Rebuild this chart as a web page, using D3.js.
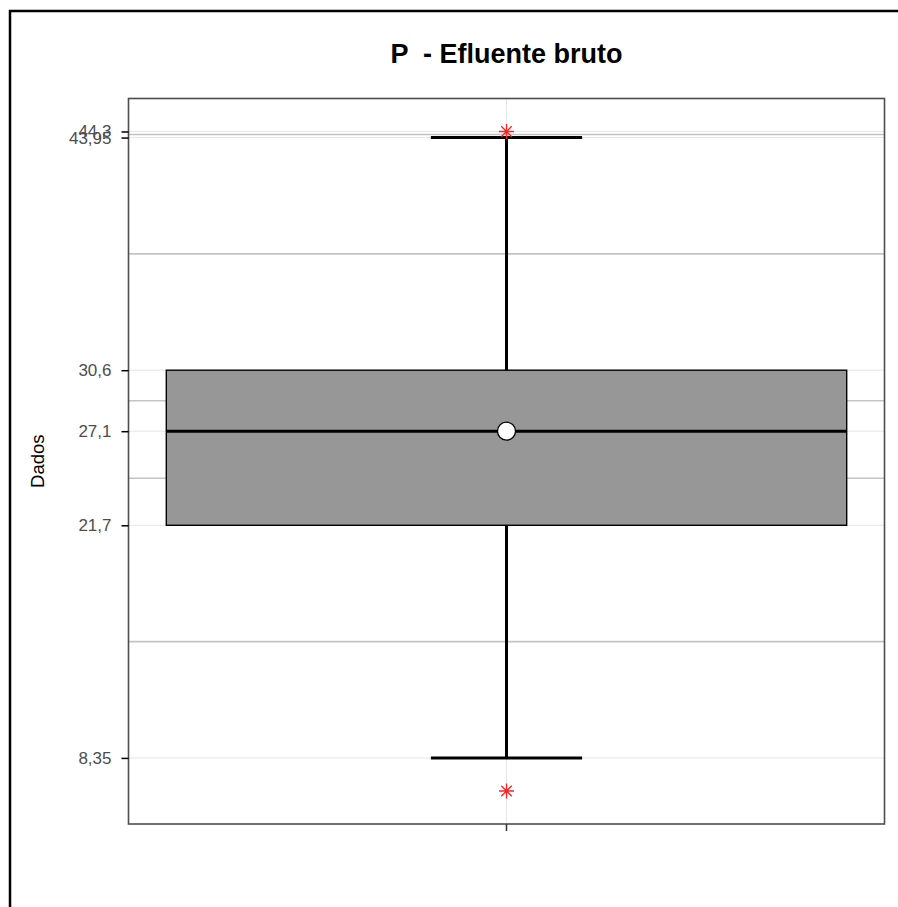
<!DOCTYPE html>
<html>
<head>
<meta charset="utf-8">
<script src="https://cdn.jsdelivr.net/npm/d3@7"></script>
<style>
  html, body { margin: 0; padding: 0; background: #fff; }
  svg { display: block; font-family: "Liberation Sans", Arial, sans-serif; }
</style>
</head>
<body>
<div id="chart"></div>
<script>
// Boxplot summary of phosphorus in raw effluent
const categories = ["P"];
const whiskerLow = [8.35];
const q1 = [21.7];
const median = [27.1];
const q3 = [30.6];
const whiskerHigh = [43.95];
const mean = [27.1];
const outliers = [44.3, 6.45];
const tickValues = [8.35, 21.7, 27.1, 30.6, 43.95, 44.3];
const tickLabels = ["8,35", "21,7", "27,1", "30,6", "43,95", "44,3"];

const title = "P  - Efluente bruto";
const yTitle = "Dados";

const W = 898, H = 907;
const panel = { left: 128.5, right: 884.5, top: 98.5, bottom: 824 };

const svg = d3.select("#chart").append("svg")
  .attr("width", W).attr("height", H);

// outer frame (only top and left edges fall inside the canvas)
svg.append("path")
  .attr("d", `M10,${H + 5}V11H${W + 5}`)
  .attr("fill", "none")
  .attr("stroke", "#000")
  .attr("stroke-width", 2.5);

// y domain: data range with 5% padding on each side
const allVals = [...whiskerLow, ...whiskerHigh, ...outliers, ...q1, ...q3];
const lo = d3.min(allVals), hi = d3.max(allVals);
const pad = (hi - lo) * 0.05;
const y = d3.scaleLinear().domain([lo - pad, hi + pad]).range([panel.bottom, panel.top]);

const x = d3.scaleBand().domain(categories).range([panel.left, panel.right]).padding(0);

const g = svg.append("g");

// minor grid lines halfway between the labelled breaks
const sortedTicks = tickValues.slice().sort((a, b) => a - b);
const minor = d3.pairs(sortedTicks).map(([a, b]) => (a + b) / 2);
g.selectAll("line.minor").data(minor).join("line")
  .attr("class", "minor")
  .attr("x1", panel.left).attr("x2", panel.right)
  .attr("y1", d => y(d)).attr("y2", d => y(d))
  .attr("stroke", "#c4c4c4").attr("stroke-width", 1.6);

// major grid lines
g.selectAll("line.major").data(tickValues).join("line")
  .attr("class", "major")
  .attr("x1", panel.left).attr("x2", panel.right)
  .attr("y1", d => y(d)).attr("y2", d => y(d))
  .attr("stroke", "#e6e6e6").attr("stroke-width", 1);

g.selectAll("line.vgrid").data(categories).join("line")
  .attr("class", "vgrid")
  .attr("x1", d => x(d) + x.bandwidth() / 2).attr("x2", d => x(d) + x.bandwidth() / 2)
  .attr("y1", panel.top).attr("y2", panel.bottom)
  .attr("stroke", "#e6e6e6").attr("stroke-width", 1);

// boxes
const boxW = x.bandwidth() * 0.9;
const capW = x.bandwidth() * 0.2;
const cx = d => x(d) + x.bandwidth() / 2;

categories.forEach((c, i) => {
  const xc = cx(c);
  // whiskers
  g.append("line")
    .attr("x1", xc).attr("x2", xc)
    .attr("y1", y(whiskerHigh[i])).attr("y2", y(q3[i]))
    .attr("stroke", "#000").attr("stroke-width", 3);
  g.append("line")
    .attr("x1", xc).attr("x2", xc)
    .attr("y1", y(q1[i])).attr("y2", y(whiskerLow[i]))
    .attr("stroke", "#000").attr("stroke-width", 3);
  // caps
  [whiskerHigh[i], whiskerLow[i]].forEach(v => {
    g.append("line")
      .attr("x1", xc - capW / 2).attr("x2", xc + capW / 2)
      .attr("y1", y(v)).attr("y2", y(v))
      .attr("stroke", "#000").attr("stroke-width", 3);
  });
  // box
  g.append("rect")
    .attr("x", xc - boxW / 2).attr("width", boxW)
    .attr("y", y(q3[i])).attr("height", y(q1[i]) - y(q3[i]))
    .attr("fill", "#979797").attr("stroke", "#000").attr("stroke-width", 1.4);
  // median
  g.append("line")
    .attr("x1", xc - boxW / 2).attr("x2", xc + boxW / 2)
    .attr("y1", y(median[i])).attr("y2", y(median[i]))
    .attr("stroke", "#000").attr("stroke-width", 3);
  // mean
  g.append("circle")
    .attr("cx", xc).attr("cy", y(mean[i])).attr("r", 9)
    .attr("fill", "#fff").attr("stroke", "#000").attr("stroke-width", 1.3);
  // outliers as asterisks
  const s = 7.5;
  const star = d3.path();
  star.moveTo(-s, 0); star.lineTo(s, 0);
  star.moveTo(-s * 0.7, -s * 0.7); star.lineTo(s * 0.7, s * 0.7);
  star.moveTo(-s * 0.7, s * 0.7); star.lineTo(s * 0.7, -s * 0.7);
  star.moveTo(0, -s); star.lineTo(0, s);
  g.selectAll(null).data(outliers).join("path")
    .attr("transform", d => `translate(${xc},${y(d)})`)
    .attr("d", star.toString())
    .attr("stroke", "#ff2020").attr("stroke-width", 1.3).attr("fill", "none");
});

// panel border
svg.append("rect")
  .attr("x", panel.left).attr("y", panel.top)
  .attr("width", panel.right - panel.left).attr("height", panel.bottom - panel.top)
  .attr("fill", "none").attr("stroke", "#4d4d4d").attr("stroke-width", 1.6);

// y axis
const yAxis = d3.axisLeft(y)
  .tickValues(tickValues)
  .tickFormat((d, i) => tickLabels[i])
  .tickSize(7).tickPadding(10);
const ya = svg.append("g").attr("transform", `translate(${panel.left},0)`).call(yAxis);
ya.select(".domain").remove();
ya.selectAll(".tick line").attr("stroke", "#000").attr("stroke-width", 1.5);
ya.selectAll(".tick text").attr("fill", "#4d4d4d").attr("font-size", 17)
  .attr("font-family", "Liberation Sans, Arial, sans-serif");

// x axis (tick only)
const xAxis = d3.axisBottom(x).tickSize(7).tickFormat("");
const xa = svg.append("g").attr("transform", `translate(0,${panel.bottom})`).call(xAxis);
xa.select(".domain").remove();
xa.selectAll(".tick line").attr("stroke", "#333").attr("stroke-width", 1.5);

// titles
svg.append("text")
  .attr("x", (panel.left + panel.right) / 2).attr("y", 62.5)
  .attr("text-anchor", "middle")
  .style("white-space", "pre")
  .attr("font-size", 27).attr("font-weight", "bold").attr("fill", "#000")
  .text(title);

svg.append("text")
  .attr("transform", `translate(44,${(panel.top + panel.bottom) / 2}) rotate(-90)`)
  .attr("text-anchor", "middle")
  .attr("font-size", 18.5).attr("fill", "#000")
  .text(yTitle);
</script>
</body>
</html>
